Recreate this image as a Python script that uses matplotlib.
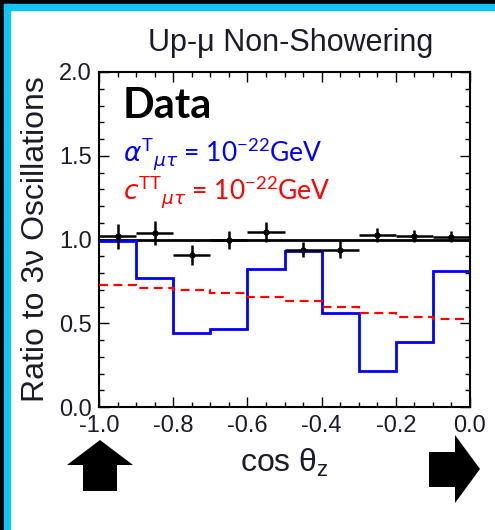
import matplotlib
matplotlib.use("Agg")
import matplotlib.pyplot as plt
from matplotlib.patches import Rectangle, Polygon
from matplotlib.ticker import MultipleLocator
import numpy as np

# bin edges in cos(theta_z)
edges = [-1.0, -0.9, -0.8, -0.7, -0.6, -0.5, -0.4, -0.3, -0.2, -0.1, 0.0]

# alpha^T_mutau = 1e-22 GeV  (blue)
alpha_ratio = [0.99, 0.77, 0.44, 0.465, 0.825, 0.93, 0.56, 0.215, 0.39, 0.81]
# c^TT_mutau = 1e-22 GeV  (red dashed)
c_ratio = [0.728, 0.712, 0.70, 0.678, 0.659, 0.633, 0.595, 0.559, 0.535, 0.523]

# data points
data_x = [-0.95, -0.85, -0.75, -0.65, -0.55, -0.45, -0.35, -0.25, -0.15, -0.05]
data_y = [1.018, 1.04, 0.907, 0.997, 1.047, 0.94, 0.94, 1.027, 1.02, 1.016]
data_err = [0.075, 0.072, 0.058, 0.056, 0.06, 0.046, 0.05, 0.04, 0.037, 0.032]

W, H = 495, 530
fig = plt.figure(figsize=(W / 100, H / 100), dpi=100)
fig.patch.set_facecolor("white")

sans = ["Liberation Sans", "DejaVu Sans"]
txt_col = "#1c1c28"


def px(x, y):
    return (x / W, 1 - y / H)


# slide frame (black + cyan) on the top and left edges
cyan = "#12c3f3"
fig.patches.append(Rectangle((0, 0), 4 / W, 1, transform=fig.transFigure, color="black", zorder=0))
fig.patches.append(Rectangle((0, 1 - 4 / H), 1, 4 / H, transform=fig.transFigure, color="black", zorder=0))
fig.patches.append(Rectangle((4 / W, 0), 6 / W, 1 - 4 / H, transform=fig.transFigure, color=cyan, zorder=0))
fig.patches.append(Rectangle((4 / W, 1 - 10 / H), 1, 6 / H, transform=fig.transFigure, color=cyan, zorder=0))

ax = fig.add_axes([99 / W, (H - 407) / H, 371 / W, 335 / H])

ax.axhline(1.0, color="black", lw=2.0, zorder=2)
ax.stairs(alpha_ratio, edges, baseline=None, color="#0000ff", lw=2.0, zorder=3)
ax.stairs(c_ratio, edges, baseline=None, color="#ff0000", lw=1.6, ls=(0, (4, 2.5)), zorder=3)
ax.errorbar(data_x, data_y, xerr=0.05, yerr=data_err, fmt="o", ms=3.5, color="black",
            elinewidth=1.8, capsize=0, zorder=4)

ax.set_xlim(-1.0, 0.0)
ax.set_ylim(0.0, 2.0)
ax.xaxis.set_minor_locator(MultipleLocator(0.05))
ax.yaxis.set_minor_locator(MultipleLocator(0.1))
ax.set_xticks(np.arange(-1.0, 0.01, 0.2))
ax.set_xticklabels(["-1.0", "-0.8", "-0.6", "-0.4", "-0.2", "0.0"])
ax.set_yticks([0.0, 0.5, 1.0, 1.5, 2.0])
ax.set_yticklabels(["0.0", "0.5", "1.0", "1.5", "2.0"])
ax.tick_params(which="both", direction="in", top=True, right=True, width=1.0, colors="black",
               labelcolor=txt_col, labelsize=17)
ax.tick_params(which="major", length=7)
ax.tick_params(which="minor", length=3.5)
ax.tick_params(axis="x", pad=6)
ax.tick_params(axis="y", pad=5)
for lab in ax.get_xticklabels() + ax.get_yticklabels():
    lab.set_family(sans)
for s in ax.spines.values():
    s.set_linewidth(1.5)

ax.set_xlabel(r"cos θ$_\mathregular{z}$", fontsize=23, family=sans, color=txt_col, labelpad=7)
ax.set_ylabel("Ratio to 3ν Oscillations", fontsize=23, family=sans, color=txt_col, labelpad=6)
fig.text(*px(291, 43), "Up-μ Non-Showering", fontsize=22, family=sans, color=txt_col,
         ha="center", va="center")

ax.text(-0.935, 1.725, "Data", fontsize=30, fontweight="bold", family=["Lato", "DejaVu Sans"],
        color="black", va="baseline", ha="left")
ax.text(-0.935, 1.463, r"$\alpha^{\mathregular{T}}{}_{\mu\tau}$ = 10$^{\mathregular{-22}}$GeV",
        fontsize=19, family=["Lato", "DejaVu Sans"], color="#0000ff", va="baseline", ha="left")
ax.text(-0.935, 1.236, r"$c^{\mathregular{TT}}{}_{\mu\tau}$ = 10$^{\mathregular{-22}}$GeV",
        fontsize=19, family=["Lato", "DejaVu Sans"], color="#ff0000", va="baseline", ha="left")

# direction arrows below the axis
up = [(83, 491), (117, 491), (117, 465), (133, 465), (100, 440), (67, 465), (83, 465)]
right = [(429, 452), (455, 452), (455, 435), (480, 469), (455, 503), (455, 487), (429, 487)]
for pts in (up, right):
    fig.patches.append(Polygon([px(x, y) for x, y in pts], closed=True, transform=fig.transFigure,
                               facecolor="black", edgecolor="none", zorder=5))

fig.savefig("out.png", dpi=100)
